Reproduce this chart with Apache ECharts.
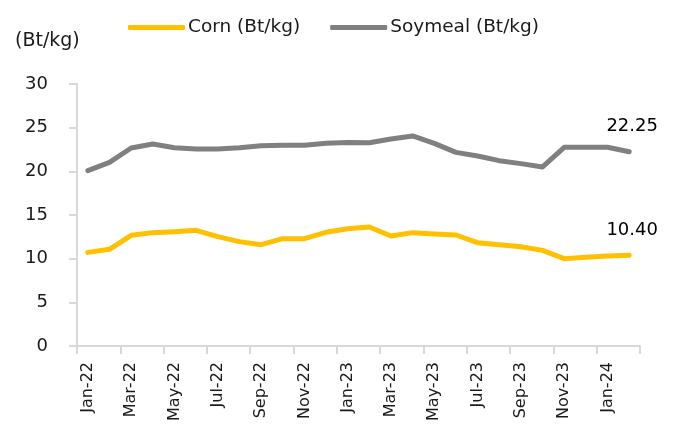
<!DOCTYPE html>
<html>
<head>
<meta charset="utf-8">
<script src="https://cdn.jsdelivr.net/npm/echarts@6/dist/echarts.min.js"></script>
<style>
html,body{margin:0;padding:0;background:#fff;}
#chart{width:674px;height:430px;}
</style>
</head>
<body>
<div id="chart"></div>
<script>
var categories = ['Jan-22','Feb-22','Mar-22','Apr-22','May-22','Jun-22','Jul-22','Aug-22','Sep-22','Oct-22','Nov-22','Dec-22',
  'Jan-23','Feb-23','Mar-23','Apr-23','May-23','Jun-23','Jul-23','Aug-23','Sep-23','Oct-23','Nov-23','Dec-23',
  'Jan-24','Feb-24'];
var cornValues = [10.72, 11.07, 12.67, 12.98, 13.09, 13.25, 12.52, 11.95, 11.60, 12.29, 12.29, 13.02,
  13.43, 13.63, 12.60, 12.98, 12.82, 12.71, 11.83, 11.60, 11.37, 10.95, 10.00, 10.15, 10.30, 10.40];
var soyValues = [20.08, 21.03, 22.67, 23.13, 22.71, 22.56, 22.56, 22.71, 22.94, 22.98, 22.98, 23.21,
  23.30, 23.28, 23.70, 24.05, 23.20, 22.17, 21.76, 21.22, 20.88, 20.50, 22.75, 22.75, 22.75, 22.25];
var seriesNames = ['Corn (Bt/kg)', 'Soymeal (Bt/kg)'];
var unitLabel = '(Bt/kg)';

var FONT = 'DejaVu Sans';
var TXT = '#1a1a1a';
var AXIS = '#d9d9d9';

var endLabelStyle = {
  show: true, distance: 0, offset: [3, -25],
  align: 'center', verticalAlign: 'middle',
  formatter: function (p) { return Number(p.value).toFixed(2); },
  fontFamily: FONT, fontSize: 18, color: '#000'
};

var chart = echarts.init(document.getElementById('chart'), null, {renderer: 'canvas'});
chart.setOption({
  animation: false,
  backgroundColor: '#fff',
  grid: {left: 77, right: 34, top: 84, bottom: 84, containLabel: false},
  legend: {
    left: 128, top: 18, padding: 0, itemGap: 30,
    itemWidth: 57, itemHeight: 5, icon: 'roundRect',
    textStyle: {fontFamily: FONT, fontSize: 18.5, color: TXT, padding: [0, 0, 0, -2]},
    data: seriesNames
  },
  graphic: [{
    type: 'text', left: 15, top: 32,
    style: {text: unitLabel, font: '19px "DejaVu Sans"', fill: TXT}
  }],
  xAxis: {
    type: 'category', data: categories, boundaryGap: true,
    axisLine: {show: true, lineStyle: {color: AXIS, width: 2}},
    axisTick: {show: true, interval: 1, length: 8, lineStyle: {color: AXIS, width: 2}},
    axisLabel: {interval: 1, rotate: 90, margin: 16, fontFamily: FONT, fontSize: 16, color: TXT},
    splitLine: {show: false}
  },
  yAxis: {
    type: 'value', min: 0, max: 30, interval: 5,
    axisLine: {show: true, lineStyle: {color: AXIS, width: 2}},
    axisTick: {show: true, length: 8, lineStyle: {color: AXIS, width: 2}},
    axisLabel: {margin: 29, fontFamily: FONT, fontSize: 18, color: TXT},
    splitLine: {show: false}
  },
  series: [
    {
      name: seriesNames[0], type: 'line', data: cornValues,
      showSymbol: false, symbol: 'none',
      lineStyle: {color: '#FFC000', width: 5, cap: 'round', join: 'round'},
      itemStyle: {color: '#FFC000'},
      endLabel: endLabelStyle
    },
    {
      name: seriesNames[1], type: 'line', data: soyValues,
      showSymbol: false, symbol: 'none',
      lineStyle: {color: '#808080', width: 5, cap: 'round', join: 'round'},
      itemStyle: {color: '#808080'},
      endLabel: endLabelStyle
    }
  ]
});
</script>
</body>
</html>
